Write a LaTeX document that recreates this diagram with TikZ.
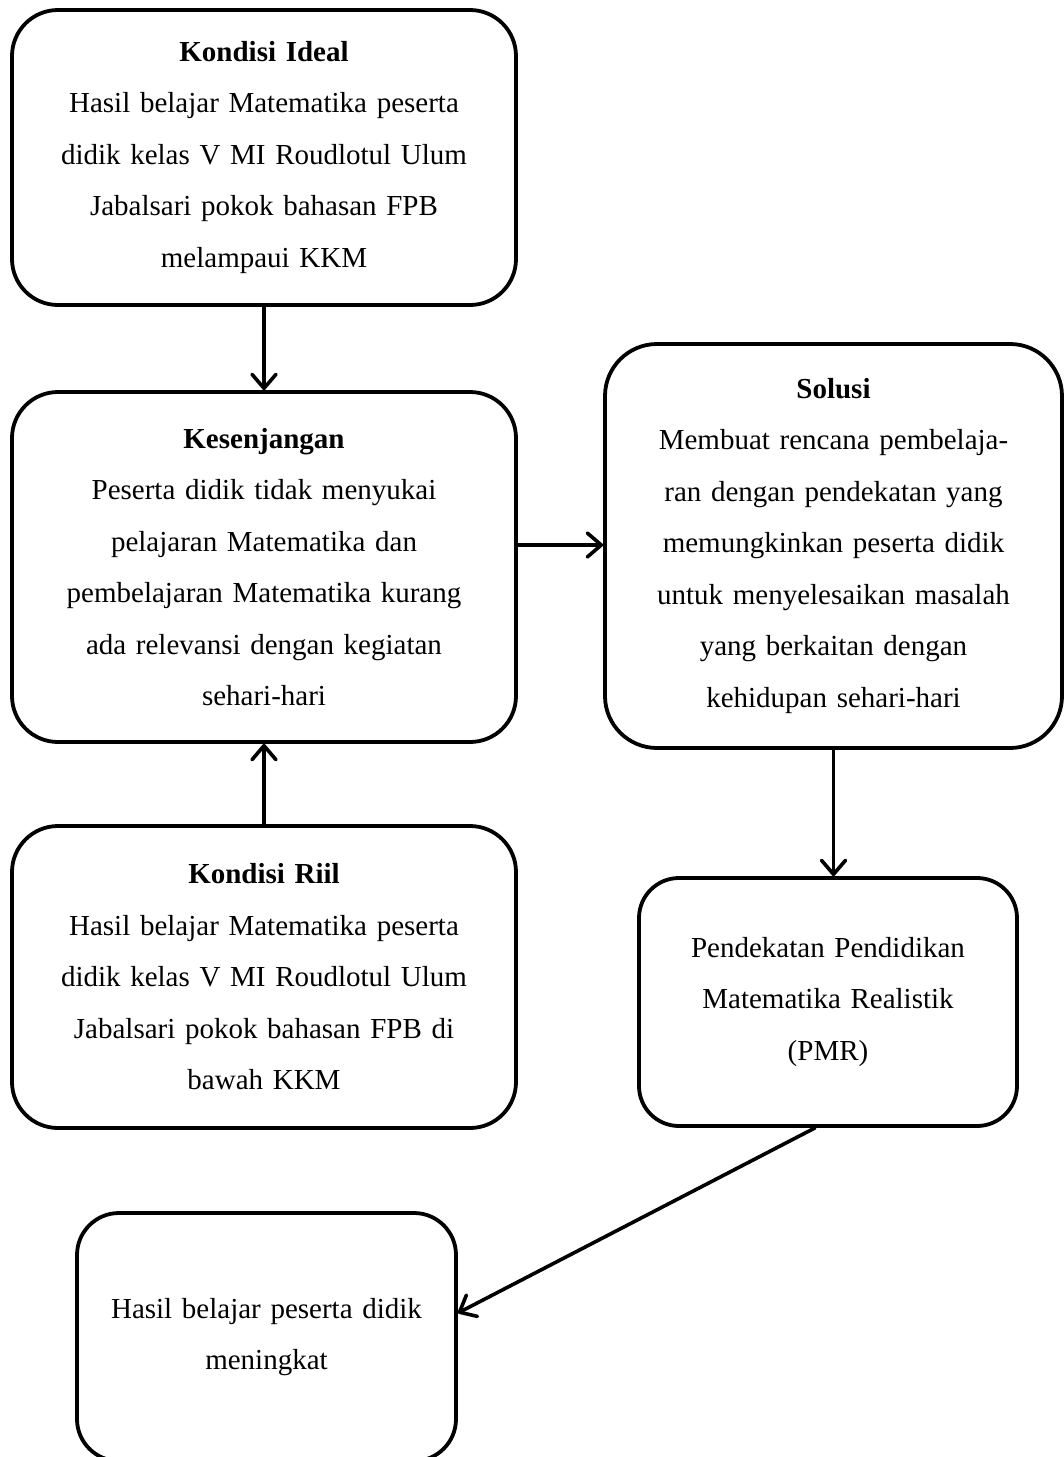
\documentclass[tikz,border=0pt]{standalone}
\usepackage{fontspec}
\setmainfont{Liberation Serif}
\usetikzlibrary{arrows.meta,calc}
\begin{document}
\begin{tikzpicture}[x=1pt,y=-1pt,
  box/.style={draw=black, line width=3.8pt, rounded corners=46pt, align=center,
    inner sep=0pt, font=\fontsize{29}{51.5}\selectfont},
  arr/.style={draw=black, line width=3.6pt, line cap=round,
    -{Straight Barb[length=14pt,width=24pt,line width=3.6pt,round]}}]
\useasboundingbox[fill=white] (0,0) rectangle (1064,1457);

\node[box, minimum width=504pt, minimum height=295pt, text width=490pt] (ideal) at (264,157.5)
  {\textbf{Kondisi Ideal}\\ Hasil belajar Matematika peserta\\ didik kelas V MI Roudlotul Ulum\\ Jabalsari pokok bahasan FPB\\ melampaui KKM};
\node[box, minimum width=504pt, minimum height=350pt, text width=490pt] (kes) at (264,567)
  {\textbf{Kesenjangan}\\ Peserta didik tidak menyukai\\ pelajaran Matematika dan\\ pembelajaran Matematika kurang\\ ada relevansi dengan kegiatan\\ sehari-hari};
\node[box, minimum width=504pt, minimum height=302pt, text width=490pt] (riil) at (264,977)
  {\textbf{Kondisi Riil}\\ Hasil belajar Matematika peserta\\ didik kelas V MI Roudlotul Ulum\\ Jabalsari pokok bahasan FPB di\\ bawah KKM};
\node[box, minimum width=457pt, minimum height=404pt, text width=440pt, rounded corners=52pt] (sol) at (833.5,546)
  {\textbf{Solusi}\\ Membuat rencana pembelaja-\\ ran dengan pendekatan yang\\ memungkinkan peserta didik\\ untuk menyelesaikan masalah\\ yang berkaitan dengan\\ kehidupan sehari-hari};
\node[box, minimum width=378pt, minimum height=248pt, text width=370pt, rounded corners=40pt] (pmr) at (828,1002)
  {Pendekatan Pendidikan\\ Matematika Realistik\\ (PMR)};
\node[box, minimum width=379pt, minimum height=248pt, text width=370pt, rounded corners=42pt] (hasil) at (266.5,1337)
  {Hasil belajar peserta didik\\ meningkat};

\coordinate (k1) at ($(kes.east)+(0,-22)$);
\coordinate (p1) at ($(pmr.south)+(-13,0)$);
\coordinate (h1) at ($(hasil.east)+(0,-24)$);

\draw[arr] (ideal.south) -- (kes.north);
\draw[arr] (riil.north) -- (kes.south);
\draw[arr] (k1) -- (k1 -| sol.west);
\draw[arr] (sol.south) -- (sol.south |- pmr.north);
\draw[arr] (p1) -- (h1);
\end{tikzpicture}
\end{document}
